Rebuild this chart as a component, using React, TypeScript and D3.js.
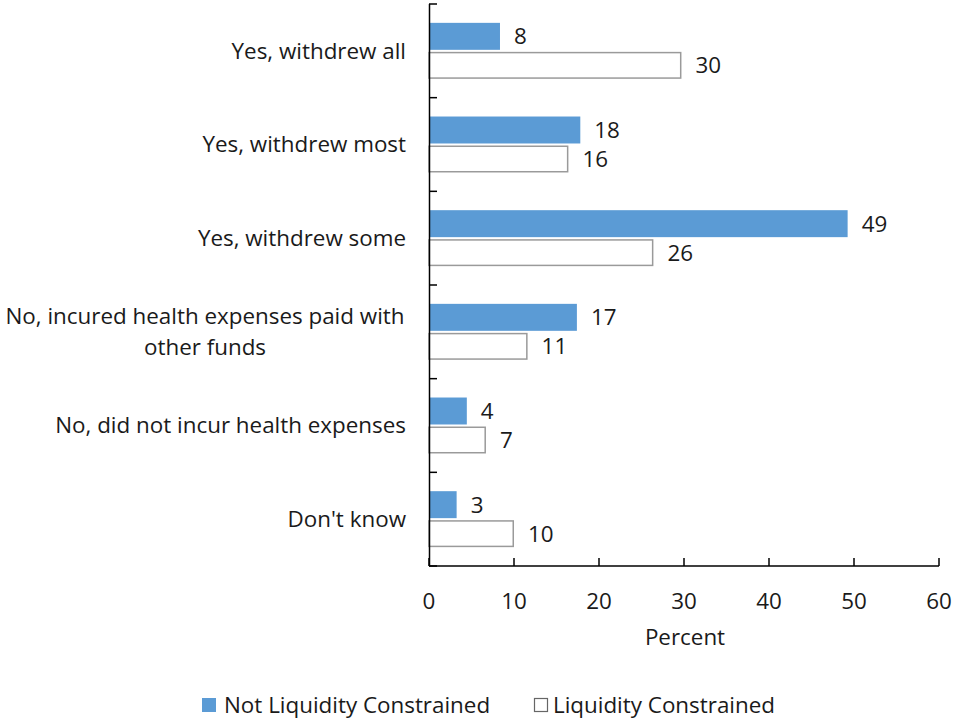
import React from "react";
import * as d3 from "d3";

const categories = [
  "Yes, withdrew all",
  "Yes, withdrew most",
  "Yes, withdrew some",
  "No, incured health expenses paid with other funds",
  "No, did not incur health expenses",
  "Don't know",
];
const categoryLines = [
  ["Yes, withdrew all"],
  ["Yes, withdrew most"],
  ["Yes, withdrew some"],
  ["No, incured health expenses paid with", "other funds"],
  ["No, did not incur health expenses"],
  ["Don't know"],
];
const seriesNames = ["Not Liquidity Constrained", "Liquidity Constrained"];
// bar lengths
const notConstrained = [8.35, 17.8, 49.25, 17.4, 4.45, 3.25];
const constrained = [29.7, 16.4, 26.4, 11.6, 6.7, 10.0];
// printed data labels
const notConstrainedLabels = ["8", "18", "49", "17", "4", "3"];
const constrainedLabels = ["30", "16", "26", "11", "7", "10"];
const xTicks = [0, 10, 20, 30, 40, 50, 60];

const W = 954;
const H = 719;
const FONT = "'Open Sans', sans-serif";
const FS = 22.4;
const TEXT = "#1a1a1a";
const BLUE = "#5B9BD5";
const GRAY = "#9a9a9a";

export default function App() {
  const x = d3.scaleLinear().domain([0, 60]).range([429, 939]);
  const y0 = d3.scaleBand<string>().domain(categories).range([4, 566]).padding(0);
  const y1 = d3
    .scaleBand<string>()
    .domain(seriesNames)
    .range([0, y0.bandwidth()])
    .paddingInner(0.07)
    .paddingOuter(0.65);
  const values = [notConstrained, constrained];
  const labels = [notConstrainedLabels, constrainedLabels];
  const boundaries = categories.map((c) => y0(c) as number).concat([566]);

  return (
    <svg width={W} height={H} style={{ position: "absolute", left: 0, top: 0, background: "#fff" }} fontFamily={FONT}>
      <rect width={W} height={H} fill="#fff" />
      {/* bars */}
      {categories.map((c, i) =>
        seriesNames.map((s, si) => {
          const v = values[si][i];
          const by = (y0(c) as number) + (y1(s) as number);
          const bh = y1.bandwidth();
          return (
            <g key={c + s}>
              {si === 0 ? (
                <rect x={x(0)} y={by} width={x(v) - x(0)} height={bh} fill={BLUE} />
              ) : (
                <rect
                  x={x(0)}
                  y={by + 0.75}
                  width={x(v) - x(0) - 0.75}
                  height={bh - 1.5}
                  fill="#fff"
                  stroke={GRAY}
                  strokeWidth={1.5}
                />
              )}
              <text
                x={x(v) + 14}
                y={by + bh / 2}
                dy="0.35em"
                fontSize={FS}
                fill={TEXT}
              >
                {labels[si][i]}
              </text>
            </g>
          );
        })
      )}
      {/* y axis */}
      <line x1={429.5} x2={429.5} y1={4} y2={566} stroke="#000" strokeWidth={1.5} />
      {boundaries.map((b, i) => (
        <line key={"yt" + i} x1={429} x2={437} y1={b} y2={b} stroke="#000" strokeWidth={1.5} />
      ))}
      {/* x axis */}
      <line x1={429} x2={939} y1={566} y2={566} stroke="#000" strokeWidth={1.5} />
      {xTicks.map((t) => (
        <g key={"xt" + t}>
          <line x1={x(t)} x2={x(t)} y1={566} y2={558} stroke="#000" strokeWidth={1.5} />
          <text x={x(t)} y={601} dy="0.35em" textAnchor="middle" fontSize={FS} fill={TEXT}>
            {t}
          </text>
        </g>
      ))}
      <text x={685} y={637} dy="0.35em" textAnchor="middle" fontSize={FS} fill={TEXT}>
        Percent
      </text>
      {/* category labels */}
      {categories.map((c, i) => {
        const lines = categoryLines[i];
        const cy = (y0(c) as number) + y0.bandwidth() / 2;
        if (lines.length === 1) {
          return (
            <text key={c} x={406} y={cy} dy="0.35em" textAnchor="end" fontSize={FS} fill={TEXT}>
              {lines[0]}
            </text>
          );
        }
        return (
          <text key={c} x={205} y={cy} textAnchor="middle" fontSize={FS} fill={TEXT}>
            {lines.map((l, li) => (
              <tspan key={li} x={205} y={cy + (li - (lines.length - 1) / 2) * 31} dy="0.35em">
                {l}
              </tspan>
            ))}
          </text>
        );
      })}
      {/* legend */}
      <rect x={202} y={698} width={14} height={14} fill={BLUE} />
      <text x={224} y={705} dy="0.35em" fontSize={FS} fill={TEXT}>
        {seriesNames[0]}
      </text>
      <rect x={534.5} y={698.5} width={13} height={13} fill="#fff" stroke="#666" strokeWidth={1.2} />
      <text x={553} y={705} dy="0.35em" fontSize={FS} fill={TEXT}>
        {seriesNames[1]}
      </text>
    </svg>
  );
}
